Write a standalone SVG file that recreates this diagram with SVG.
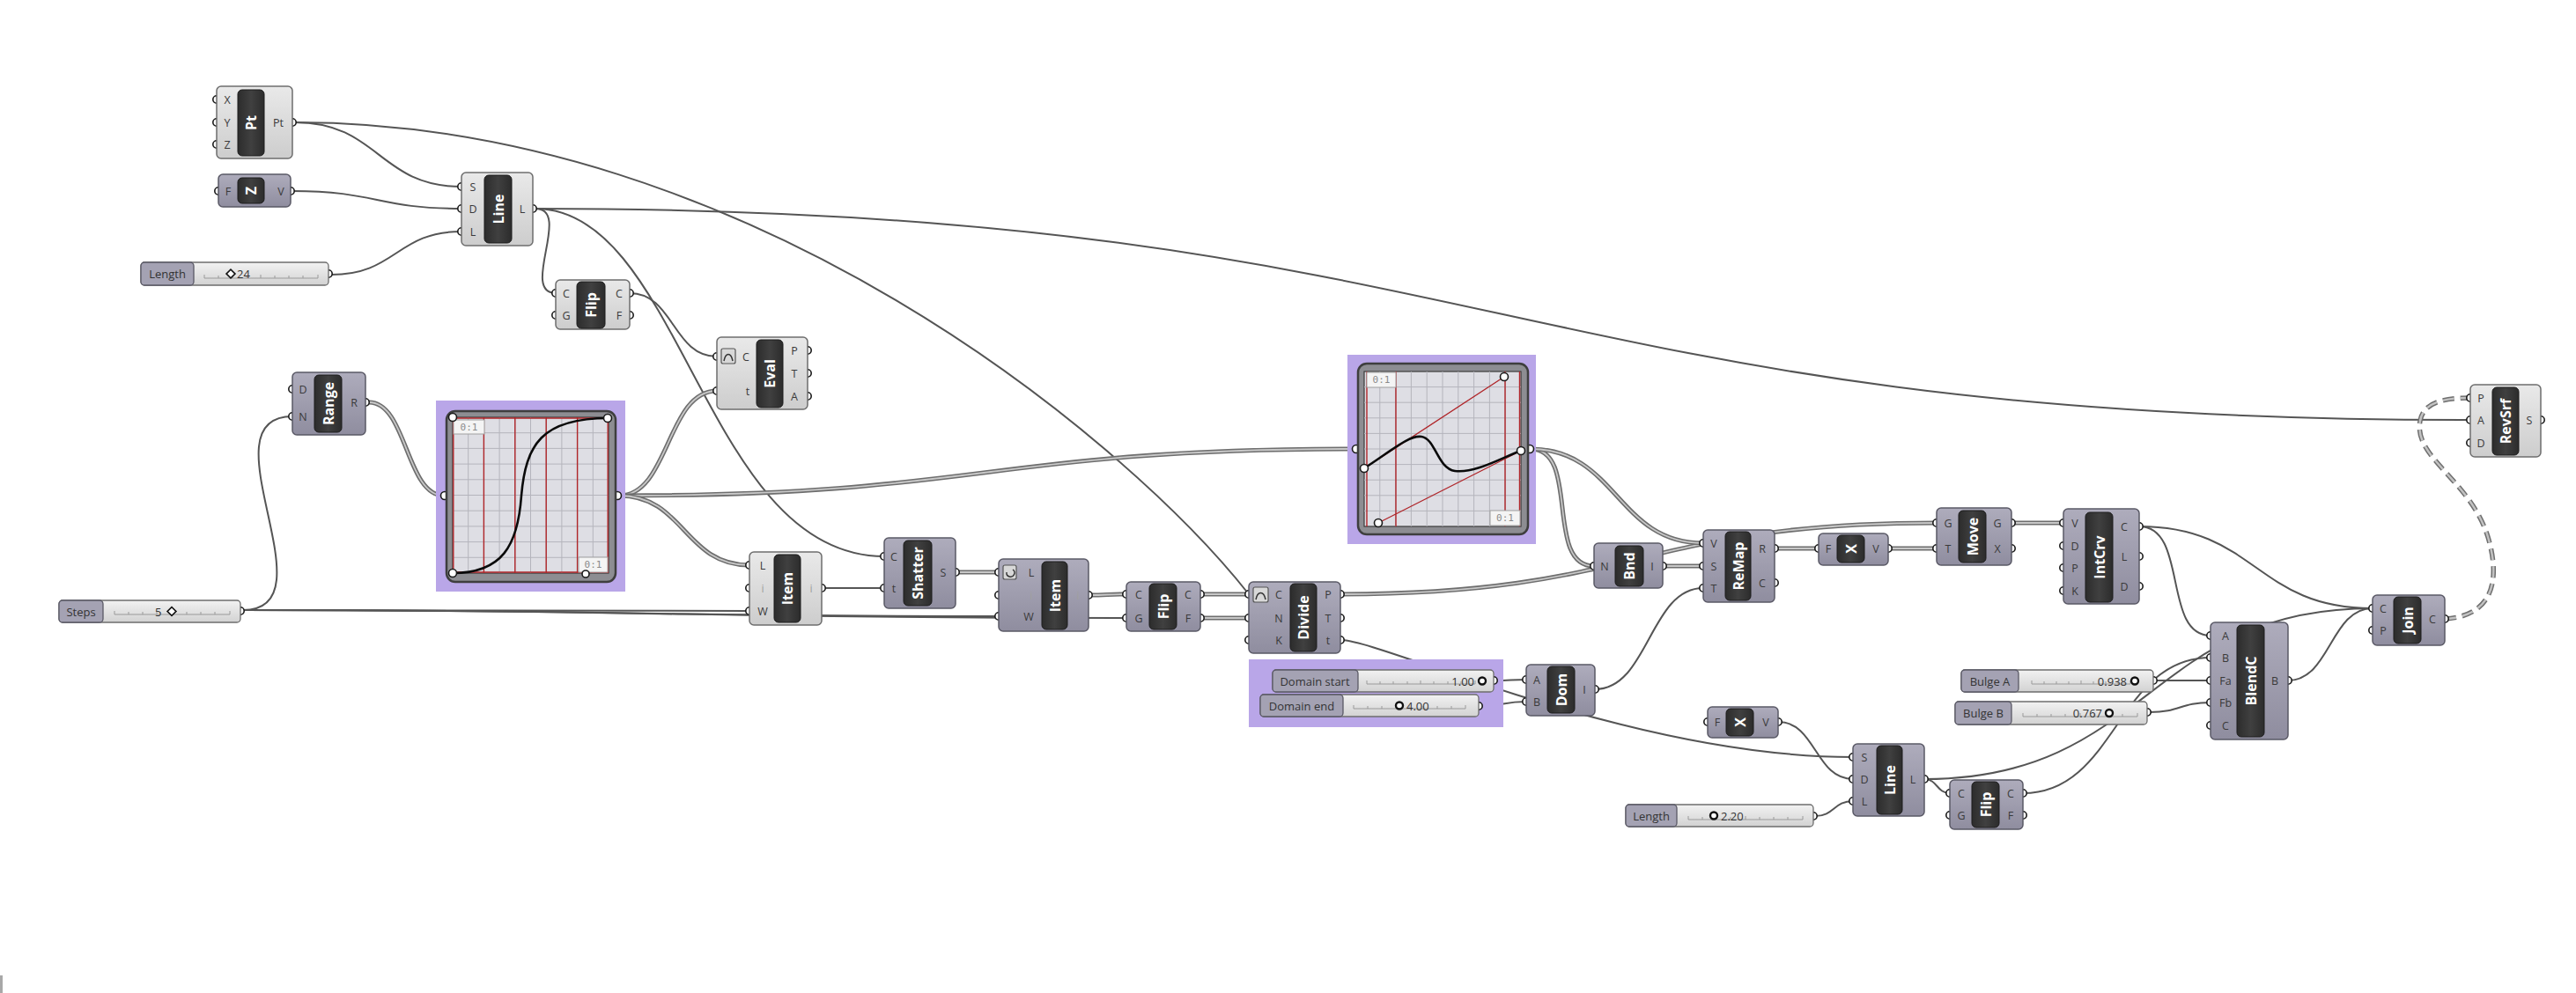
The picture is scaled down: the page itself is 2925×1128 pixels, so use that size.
<svg xmlns="http://www.w3.org/2000/svg" width="2925" height="1128" viewBox="0 0 2925 1128">
<defs>
<linearGradient id="gL" x1="0" y1="0" x2="0" y2="1"><stop offset="0" stop-color="#e9e9e9"/><stop offset="1" stop-color="#cdcdcd"/></linearGradient>
<linearGradient id="gP" x1="0" y1="0" x2="0" y2="1"><stop offset="0" stop-color="#aeacbc"/><stop offset="1" stop-color="#8f8d9f"/></linearGradient>
<linearGradient id="gB" x1="0" y1="0" x2="1" y2="0"><stop offset="0" stop-color="#2c2c2c"/><stop offset="0.5" stop-color="#404040"/><stop offset="1" stop-color="#2c2c2c"/></linearGradient>
<linearGradient id="gS" x1="0" y1="0" x2="0" y2="1"><stop offset="0" stop-color="#f2f2f2"/><stop offset="1" stop-color="#d2d2d2"/></linearGradient>
</defs>
<style>
.lt{fill:url(#gL);stroke:#6d6d6d;stroke-width:1.5}
.pu{fill:url(#gP);stroke:#5a5966;stroke-width:1.5}
.bar{fill:url(#gB);stroke:#1c1c1c;stroke-width:1}
.nm{font-family:"Open Sans","DejaVu Sans",sans-serif;font-weight:bold;font-size:16px;fill:#fff;text-anchor:middle;dominant-baseline:central}
.pl{font-family:"Open Sans","DejaVu Sans",sans-serif;font-size:12.5px;fill:#3a3a3a;text-anchor:middle;dominant-baseline:central}
.dim{fill:#a0a0a0}
.pt{fill:#fff;stroke:#1a1a1a;stroke-width:1.6}
.w{fill:none;stroke:#555;stroke-width:2}
.L{fill:none;stroke:#6e6e6e;stroke-width:5}
.Li{fill:none;stroke:#c8c8c8;stroke-width:1.8}
.dsh{fill:none;stroke:#6f6f6f;stroke-width:5.5;stroke-dasharray:13 7}
.dshi{fill:none;stroke:#c2c2c2;stroke-width:2.5;stroke-dasharray:13 7}
.sl{fill:#a4a2b3;stroke:#5a5966;stroke-width:1.3}
.sv{fill:url(#gS);stroke:#6d6d6d;stroke-width:1.3}
.st{font-family:"Open Sans","DejaVu Sans",sans-serif;font-size:13px;fill:#333;dominant-baseline:central}
.ru{fill:none;stroke:#9a9a9a;stroke-width:1}
.kn{fill:#fff;stroke:#111;stroke-width:2.4}
.grp{fill:#b9a6e8}
.frm{fill:#8d8d92;stroke:#3e3e3e;stroke-width:2.5}
.plot{fill:#dedee4;stroke:#3a3a3a;stroke-width:1.2}
.grid{fill:none;stroke:#b4b4bc;stroke-width:1}
.red{fill:none;stroke:#b0262a;stroke-width:1.4}
.crv{fill:none;stroke:#0a0a0a;stroke-width:2.6}
.lbx{fill:#f4f4f4;stroke:#a0a0a0;stroke-width:1}
.lbt{font-family:"DejaVu Sans Mono",monospace;font-size:11px;fill:#8a8a8a;text-anchor:middle;dominant-baseline:central}
.ico{fill:#d8d8d8;stroke:#555;stroke-width:1.2}
</style>
<rect x="0" y="0" width="2925" height="1128" fill="#ffffff"/>
<rect x="0" y="1108" width="3" height="20" fill="#a8a8a8"/>

<g id="connectors">
<path class="w" d="M335,139 C430,139 430,212 524,212"/>
<path class="w" d="M335,139 C850,139 1280,500 1418,675"/>
<path class="w" d="M332,217 C428,217 428,237 524,237"/>
<path class="w" d="M376,312 C450,312 450,263 524,263"/>
<path class="w" d="M608,237 C650,237 590,333 631,333"/>
<path class="w" d="M608,237 C1706,237 1707,477 2805,477"/>
<path class="w" d="M608,237 C775,237 800,632 1004,632"/>
<path class="w" d="M715,333 C765,333 764,405 814,405"/>
<path class="w" d="M276,693 C380,693 228,473 332,473"/>
<path class="w" d="M276,693 C560,693 565,694 851,694"/>
<path class="w" d="M276,693 C700,693 710,700 1134,700"/>
<path class="w" d="M276,693 C780,693 775,702 1279,702"/>
<path class="w" d="M933,668 L1004,668"/>
<path class="w" d="M1522,727 C1570,727 1850,860 2104,860"/>
<path class="w" d="M1811,783 C1872,783 1873,668 1934,668"/>
<path class="w" d="M1698,773 C1715,773 1716,772 1733,772"/>
<path class="w" d="M1681,802 C1707,802 1707,797 1733,797"/>
<path class="w" d="M2019,820 C2062,820 2061,885 2104,885"/>
<path class="w" d="M2061,927 C2083,927 2082,910 2104,910"/>
<path class="w" d="M2185,885 C2200,885 2199,901 2214,901"/>
<path class="w" d="M2185,885 C2440,885 2440,691 2694,691"/>
<path class="w" d="M2297,901 C2403,901 2404,747 2510,747"/>
<path class="w" d="M2448,773 L2510,773"/>
<path class="w" d="M2441,809 C2476,809 2475,798 2510,798"/>
<path class="w" d="M2429,598 C2485,598 2455,722 2510,722"/>
<path class="w" d="M2429,598 C2562,598 2561,691 2694,691"/>
<path class="w" d="M2598,773 C2646,773 2646,691 2694,691"/>
<path class="L" d="M419,457 C462,457 461,563 504,563"/><path class="Li" d="M419,457 C462,457 461,563 504,563"/>
<path class="L" d="M703,563 C760,563 757,444 814,444"/><path class="Li" d="M703,563 C760,563 757,444 814,444"/>
<path class="L" d="M703,563 C1121,563 1121,510 1539,510"/><path class="Li" d="M703,563 C1121,563 1121,510 1539,510"/>
<path class="L" d="M703,563 C777,563 777,642 851,642"/><path class="Li" d="M703,563 C777,563 777,642 851,642"/>
<path class="L" d="M1085,650 L1134,650"/><path class="Li" d="M1085,650 L1134,650"/>
<path class="L" d="M1236,676 C1258,676 1257,675 1279,675"/><path class="Li" d="M1236,676 C1258,676 1257,675 1279,675"/>
<path class="L" d="M1363,675 L1418,675"/><path class="Li" d="M1363,675 L1418,675"/>
<path class="L" d="M1363,702 L1418,702"/><path class="Li" d="M1363,702 L1418,702"/>
<path class="L" d="M1522,675 C1860,675 1861,594 2199,594"/><path class="Li" d="M1522,675 C1860,675 1861,594 2199,594"/>
<path class="L" d="M1738,510 C1795,510 1753,643 1810,643"/><path class="Li" d="M1738,510 C1795,510 1753,643 1810,643"/>
<path class="L" d="M1738,510 C1836,510 1836,617 1934,617"/><path class="Li" d="M1738,510 C1836,510 1836,617 1934,617"/>
<path class="L" d="M1888,643 L1934,643"/><path class="Li" d="M1888,643 L1934,643"/>
<path class="L" d="M2015,623 L2065,623"/><path class="Li" d="M2015,623 L2065,623"/>
<path class="L" d="M2144,623 L2199,623"/><path class="Li" d="M2144,623 L2199,623"/>
<path class="L" d="M2284,594 L2343,594"/><path class="Li" d="M2284,594 L2343,594"/>
<path class="dsh" d="M2776,703 C2830,700 2840,660 2825,610 C2805,545 2740,520 2748,478 C2752,455 2780,452 2805,452"/>
<path class="dshi" d="M2776,703 C2830,700 2840,660 2825,610 C2805,545 2740,520 2748,478 C2752,455 2780,452 2805,452"/>
</g>

<g id="node-pt">
<circle class="pt" cx="246" cy="113" r="4.2"/><circle class="pt" cx="246" cy="139" r="4.2"/><circle class="pt" cx="246" cy="164" r="4.2"/><circle class="pt" cx="332" cy="139" r="4.2"/>
<rect class="lt" x="246" y="98" width="86" height="82" rx="5"/>
<rect class="bar" x="270" y="102" width="30" height="75" rx="5"/>
<text class="nm" transform="translate(285,139.5) rotate(-90)">Pt</text>
<text class="pl" x="258" y="113">X</text><text class="pl" x="258" y="139">Y</text><text class="pl" x="258" y="164">Z</text><text class="pl" x="316" y="139">Pt</text>
</g>

<g id="node-unitz">
<circle class="pt" cx="248" cy="217" r="4.2"/><circle class="pt" cx="330" cy="217" r="4.2"/>
<rect class="pu" x="248" y="198" width="82" height="37" rx="5"/>
<rect class="bar" x="270" y="202" width="30" height="29" rx="5"/>
<text class="nm" transform="translate(285,216.5) rotate(-90)">Z</text>
<text class="pl" x="259" y="217">F</text><text class="pl" x="319" y="217">V</text>
</g>

<g id="node-line">
<circle class="pt" cx="524" cy="212" r="4.2"/><circle class="pt" cx="524" cy="237" r="4.2"/><circle class="pt" cx="524" cy="263" r="4.2"/><circle class="pt" cx="605" cy="237" r="4.2"/>
<rect class="lt" x="524" y="196" width="81" height="83" rx="5"/>
<rect class="bar" x="550" y="199" width="31" height="77" rx="5"/>
<text class="nm" transform="translate(565.5,237.5) rotate(-90)">Line</text>
<text class="pl" x="537" y="212">S</text><text class="pl" x="537" y="237">D</text><text class="pl" x="537" y="263">L</text><text class="pl" x="593" y="237">L</text>
</g>

<g id="slider-length">
<circle class="pt" cx="373" cy="311" r="4.2"/>
<rect class="sv" x="160" y="298" width="213" height="26" rx="4"/>
<rect class="sl" x="160" y="298" width="60" height="26" rx="4"/>
<text class="st" x="190" y="311" text-anchor="middle">Length</text>
<path class="ru" d="M232,316 H361 M232,312 V316 M248,313 V316 M264,313 V316 M280,313 V316 M296,312 V316 M312,313 V316 M328,313 V316 M344,313 V316 M361,312 V316"/>
<rect x="258.5" y="307.5" width="7" height="7" transform="rotate(45 262 311)" fill="#fff" stroke="#111" stroke-width="1.6"/>
<text class="st" x="269" y="311">24</text>
</g>

<g id="node-flip1">
<circle class="pt" cx="631" cy="333" r="4.2"/><circle class="pt" cx="631" cy="358" r="4.2"/><circle class="pt" cx="715" cy="333" r="4.2"/><circle class="pt" cx="715" cy="358" r="4.2"/>
<rect class="lt" x="631" y="318" width="84" height="56" rx="5"/>
<rect class="bar" x="655" y="320" width="32" height="53" rx="5"/>
<text class="nm" transform="translate(671,346.5) rotate(-90)">Flip</text>
<text class="pl" x="643" y="333">C</text><text class="pl" x="643" y="358">G</text><text class="pl" x="703" y="333">C</text><text class="pl" x="703" y="358">F</text>
</g>

<g id="node-eval">
<circle class="pt" cx="814" cy="405" r="4.2"/><circle class="pt" cx="814" cy="444" r="4.2"/><circle class="pt" cx="917" cy="398" r="4.2"/><circle class="pt" cx="917" cy="424" r="4.2"/><circle class="pt" cx="917" cy="450" r="4.2"/>
<rect class="lt" x="814" y="383" width="103" height="82" rx="5"/>
<rect class="bar" x="859" y="386" width="30" height="77" rx="5"/>
<rect class="ico" x="819" y="396" width="16" height="17" rx="2"/>
<path d="M822,410 C824,400 830,400 832,410" fill="none" stroke="#333" stroke-width="1.5"/>
<text class="nm" transform="translate(874,424.5) rotate(-90)">Eval</text>
<text class="pl" x="847" y="405">C</text><text class="pl" x="849" y="444">t</text><text class="pl" x="902" y="398">P</text><text class="pl" x="902" y="424">T</text><text class="pl" x="902" y="450">A</text>
</g>

<g id="node-range">
<circle class="pt" cx="332" cy="442" r="4.2"/><circle class="pt" cx="332" cy="473" r="4.2"/><circle class="pt" cx="415" cy="457" r="4.2"/>
<rect class="pu" x="332" y="423" width="83" height="71" rx="5"/>
<rect class="bar" x="357" y="426" width="31" height="65" rx="5"/>
<text class="nm" transform="translate(372.5,458.5) rotate(-90)">Range</text>
<text class="pl" x="344" y="442">D</text><text class="pl" x="344" y="473">N</text><text class="pl" x="402" y="457">R</text>
</g>

<g id="slider-steps">
<circle class="pt" cx="273" cy="694" r="4.2"/>
<rect class="sv" x="67" y="682" width="206" height="25" rx="4"/>
<rect class="sl" x="67" y="682" width="50" height="25" rx="4"/>
<text class="st" x="92" y="694.5" text-anchor="middle">Steps</text>
<path class="ru" d="M130,698 H261 M130,694 V698 M146,695 V698 M162,695 V698 M178,695 V698 M196,694 V698 M212,695 V698 M228,695 V698 M244,695 V698 M261,694 V698"/>
<text class="st" x="176" y="694.5">5</text>
<rect x="191.5" y="691" width="7" height="7" transform="rotate(45 195 694.5)" fill="#fff" stroke="#111" stroke-width="1.6"/>
</g>

<g id="graphmapper-1">
<rect class="grp" x="495" y="455" width="215" height="217"/>
<circle class="pt" cx="505" cy="563" r="4.5"/><circle class="pt" cx="701" cy="563" r="4.5"/>
<rect class="frm" x="507" y="467" width="192" height="194" rx="10"/>
<rect class="plot" x="514" y="474" width="177" height="177"/>
<path class="grid" d="M531.7,474V651M549.4,474V651M567.1,474V651M584.8,474V651M602.5,474V651M620.2,474V651M637.9,474V651M655.6,474V651M673.3,474V651M514,491.7H691M514,509.4H691M514,527.1H691M514,544.8H691M514,562.5H691M514,580.2H691M514,597.9H691M514,615.6H691M514,633.3H691"/>
<path class="red" d="M514.8,474V651M549.4,474V651M584.8,474V651M620.2,474V651M655.6,474V651M690.2,474V651M514,475H691M514,650H691"/>
<rect class="lbx" x="515" y="477" width="35" height="16"/><text class="lbt" x="532.5" y="485">0:1</text>
<rect class="lbx" x="657" y="633" width="33" height="17"/><text class="lbt" x="673.5" y="641.5">0:1</text>
<path class="crv" d="M514,651 C570,651 588,620 592,563 C597,505 615,475 691,475"/>
<circle class="pt" cx="514" cy="474" r="4.5"/><circle class="pt" cx="690" cy="475" r="4.5"/><circle class="pt" cx="514" cy="651" r="4.5"/><circle class="pt" cx="665" cy="652" r="4"/>
</g>

<g id="node-item1">
<circle class="pt" cx="851" cy="642" r="4.2"/><circle class="pt" cx="851" cy="668" r="4.2"/><circle class="pt" cx="851" cy="694" r="4.2"/><circle class="pt" cx="933" cy="668" r="4.2"/>
<rect class="lt" x="851" y="627" width="82" height="83" rx="5"/>
<rect class="bar" x="879" y="630" width="30" height="77" rx="5"/>
<text class="nm" transform="translate(894,668.5) rotate(-90)">Item</text>
<text class="pl" x="866" y="642">L</text><text class="pl dim" x="866" y="668">i</text><text class="pl" x="866" y="694">W</text><text class="pl dim" x="921" y="668">i</text>
</g>

<g id="node-shatter">
<circle class="pt" cx="1004" cy="632" r="4.2"/><circle class="pt" cx="1004" cy="668" r="4.2"/><circle class="pt" cx="1085" cy="650" r="4.2"/>
<rect class="pu" x="1004" y="611" width="81" height="80" rx="5"/>
<rect class="bar" x="1026" y="614" width="32" height="74" rx="5"/>
<text class="nm" transform="translate(1042,651) rotate(-90)">Shatter</text>
<text class="pl" x="1015" y="632">C</text><text class="pl" x="1015" y="668">t</text><text class="pl" x="1071" y="650">S</text>
</g>

<g id="node-item2">
<circle class="pt" cx="1134" cy="650" r="4.2"/><circle class="pt" cx="1134" cy="676" r="4.2"/><circle class="pt" cx="1134" cy="700" r="4.2"/><circle class="pt" cx="1236" cy="676" r="4.2"/>
<rect class="pu" x="1134" y="635" width="102" height="82" rx="5"/>
<rect class="bar" x="1183" y="638" width="29" height="77" rx="5"/>
<rect class="ico" x="1139" y="642" width="15" height="16" rx="2"/>
<path d="M1150,647 A4.5,4.5 0 1 1 1143,650" fill="none" stroke="#333" stroke-width="1.4"/>
<text class="nm" transform="translate(1197.5,676.5) rotate(-90)">Item</text>
<text class="pl" x="1171" y="650">L</text><text class="pl dim" x="1171" y="676">i</text><text class="pl" x="1168" y="700">W</text><text class="pl dim" x="1224" y="676">i</text>
</g>

<g id="node-flip2">
<circle class="pt" cx="1279" cy="675" r="4.2"/><circle class="pt" cx="1279" cy="702" r="4.2"/><circle class="pt" cx="1363" cy="675" r="4.2"/><circle class="pt" cx="1363" cy="702" r="4.2"/>
<rect class="pu" x="1279" y="661" width="84" height="56" rx="5"/>
<rect class="bar" x="1305" y="663" width="31" height="52" rx="5"/>
<text class="nm" transform="translate(1320.5,689) rotate(-90)">Flip</text>
<text class="pl" x="1293" y="675">C</text><text class="pl" x="1293" y="702">G</text><text class="pl" x="1349" y="675">C</text><text class="pl" x="1349" y="702">F</text>
</g>

<g id="node-divide">
<circle class="pt" cx="1418" cy="675" r="4.2"/><circle class="pt" cx="1418" cy="702" r="4.2"/><circle class="pt" cx="1418" cy="727" r="4.2"/><circle class="pt" cx="1522" cy="675" r="4.2"/><circle class="pt" cx="1522" cy="702" r="4.2"/><circle class="pt" cx="1522" cy="727" r="4.2"/>
<rect class="pu" x="1418" y="661" width="104" height="81" rx="5"/>
<rect class="bar" x="1465" y="663" width="30" height="77" rx="5"/>
<rect class="ico" x="1423" y="667" width="17" height="17" rx="2"/>
<path d="M1426,681 C1428,671 1435,671 1437,681" fill="none" stroke="#333" stroke-width="1.5"/>
<text class="nm" transform="translate(1480,701.5) rotate(-90)">Divide</text>
<text class="pl" x="1452" y="675">C</text><text class="pl" x="1452" y="702">N</text><text class="pl" x="1452" y="727">K</text><text class="pl" x="1508" y="675">P</text><text class="pl" x="1508" y="702">T</text><text class="pl" x="1508" y="727">t</text>
</g>

<g id="graphmapper-2">
<rect class="grp" x="1530" y="403" width="214" height="215"/>
<circle class="pt" cx="1540" cy="510" r="4.5"/><circle class="pt" cx="1737" cy="510" r="4.5"/>
<rect class="frm" x="1542" y="413" width="193" height="194" rx="10"/>
<rect class="plot" x="1549" y="422" width="178" height="176"/>
<path class="grid" d="M1566.8,422V598M1584.6,422V598M1602.4,422V598M1620.2,422V598M1638,422V598M1655.8,422V598M1673.6,422V598M1691.4,422V598M1709.2,422V598M1549,439.6H1727M1549,457.2H1727M1549,474.8H1727M1549,492.4H1727M1549,510H1727M1549,527.6H1727M1549,545.2H1727M1549,562.8H1727M1549,580.4H1727"/>
<path class="red" d="M1552,422V598M1585,422V598M1709,422V598M1725.5,422V598M1549,532L1708,428M1565,594L1727,512"/>
<rect class="lbx" x="1552" y="423" width="33" height="17"/><text class="lbt" x="1568.5" y="431.5">0:1</text>
<rect class="lbx" x="1692" y="580" width="34" height="17"/><text class="lbt" x="1709" y="588.5">0:1</text>
<path class="crv" d="M1549,532 C1580,512 1600,494 1614,496 C1630,498 1632,532 1652,535 C1675,538 1705,520 1727,512"/>
<circle class="pt" cx="1549" cy="532" r="4.5"/><circle class="pt" cx="1708" cy="428" r="4.5"/><circle class="pt" cx="1565" cy="594" r="4.5"/><circle class="pt" cx="1727" cy="512" r="4.5"/>
</g>

<g id="sliders-domain">
<rect class="grp" x="1418" y="749" width="289" height="77"/>
<circle class="pt" cx="1696" cy="773" r="4.2"/>
<rect class="sv" x="1445" y="761" width="251" height="25" rx="4"/>
<rect class="sl" x="1445" y="761" width="97" height="25" rx="4"/>
<text class="st" x="1493" y="773.5" text-anchor="middle">Domain start</text>
<path class="ru" d="M1552,777 H1675 M1552,773 V777 M1567,774 V777 M1582,774 V777 M1598,774 V777 M1613,773 V777 M1628,774 V777 M1644,774 V777 M1659,774 V777 M1675,773 V777"/>
<text class="st" x="1674" y="773.5" text-anchor="end">1.00</text>
<circle class="kn" cx="1683" cy="773.5" r="4"/>
<circle class="pt" cx="1679" cy="802" r="4.2"/>
<rect class="sv" x="1431" y="789" width="248" height="25" rx="4"/>
<rect class="sl" x="1431" y="789" width="94" height="25" rx="4"/>
<text class="st" x="1478" y="801.5" text-anchor="middle">Domain end</text>
<path class="ru" d="M1537,805 H1664 M1537,801 V805 M1553,802 V805 M1569,802 V805 M1585,802 V805 M1600,801 V805 M1616,802 V805 M1632,802 V805 M1648,802 V805 M1664,801 V805"/>
<circle class="kn" cx="1589" cy="801.5" r="4"/>
<text class="st" x="1597" y="801.5">4.00</text>
</g>

<g id="node-dom">
<circle class="pt" cx="1733" cy="772" r="4.2"/><circle class="pt" cx="1733" cy="797" r="4.2"/><circle class="pt" cx="1811" cy="783" r="4.2"/>
<rect class="pu" x="1733" y="755" width="78" height="58" rx="5"/>
<rect class="bar" x="1757" y="757" width="31" height="53" rx="5"/>
<text class="nm" transform="translate(1772.5,783.5) rotate(-90)">Dom</text>
<text class="pl" x="1745" y="772">A</text><text class="pl" x="1745" y="797">B</text><text class="pl" x="1799" y="783">I</text>
</g>

<g id="node-bnd">
<circle class="pt" cx="1810" cy="643" r="4.2"/><circle class="pt" cx="1888" cy="643" r="4.2"/>
<rect class="pu" x="1810" y="617" width="78" height="51" rx="5"/>
<rect class="bar" x="1834" y="620" width="32" height="46" rx="5"/>
<text class="nm" transform="translate(1850,643) rotate(-90)">Bnd</text>
<text class="pl" x="1822" y="643">N</text><text class="pl" x="1876" y="643">I</text>
</g>

<g id="node-remap">
<circle class="pt" cx="1934" cy="617" r="4.2"/><circle class="pt" cx="1934" cy="643" r="4.2"/><circle class="pt" cx="1934" cy="668" r="4.2"/><circle class="pt" cx="2015" cy="623" r="4.2"/><circle class="pt" cx="2015" cy="662" r="4.2"/>
<rect class="pu" x="1934" y="602" width="81" height="82" rx="5"/>
<rect class="bar" x="1959" y="604" width="29" height="78" rx="5"/>
<text class="nm" transform="translate(1973.5,643) rotate(-90)">ReMap</text>
<text class="pl" x="1946" y="617">V</text><text class="pl" x="1946" y="643">S</text><text class="pl" x="1946" y="668">T</text><text class="pl" x="2001" y="623">R</text><text class="pl" x="2001" y="662">C</text>
</g>

<g id="node-x1">
<circle class="pt" cx="2065" cy="623" r="4.2"/><circle class="pt" cx="2144" cy="623" r="4.2"/>
<rect class="pu" x="2065" y="606" width="79" height="36" rx="5"/>
<rect class="bar" x="2086" y="608" width="31" height="31" rx="5"/>
<text class="nm" transform="translate(2101.5,623.5) rotate(-90)">X</text>
<text class="pl" x="2076" y="623">F</text><text class="pl" x="2130" y="623">V</text>
</g>

<g id="node-move">
<circle class="pt" cx="2199" cy="594" r="4.2"/><circle class="pt" cx="2199" cy="623" r="4.2"/><circle class="pt" cx="2284" cy="594" r="4.2"/><circle class="pt" cx="2284" cy="623" r="4.2"/>
<rect class="pu" x="2199" y="577" width="85" height="65" rx="5"/>
<rect class="bar" x="2224" y="580" width="31" height="59" rx="5"/>
<text class="nm" transform="translate(2239.5,609.5) rotate(-90)">Move</text>
<text class="pl" x="2212" y="594">G</text><text class="pl" x="2212" y="623">T</text><text class="pl" x="2268" y="594">G</text><text class="pl" x="2268" y="623">X</text>
</g>

<g id="node-intcrv">
<circle class="pt" cx="2343" cy="594" r="4.2"/><circle class="pt" cx="2343" cy="620" r="4.2"/><circle class="pt" cx="2343" cy="645" r="4.2"/><circle class="pt" cx="2343" cy="671" r="4.2"/><circle class="pt" cx="2429" cy="598" r="4.2"/><circle class="pt" cx="2429" cy="632" r="4.2"/><circle class="pt" cx="2429" cy="666" r="4.2"/>
<rect class="pu" x="2343" y="578" width="86" height="108" rx="5"/>
<rect class="bar" x="2368" y="582" width="31" height="102" rx="5"/>
<text class="nm" transform="translate(2383.5,633) rotate(-90)">IntCrv</text>
<text class="pl" x="2356" y="594">V</text><text class="pl" x="2356" y="620">D</text><text class="pl" x="2356" y="645">P</text><text class="pl" x="2356" y="671">K</text><text class="pl" x="2412" y="598">C</text><text class="pl" x="2412" y="632">L</text><text class="pl" x="2412" y="666">D</text>
</g>

<g id="node-x2">
<circle class="pt" cx="1939" cy="820" r="4.2"/><circle class="pt" cx="2019" cy="820" r="4.2"/>
<rect class="pu" x="1939" y="803" width="80" height="35" rx="5"/>
<rect class="bar" x="1960" y="805" width="31" height="31" rx="5"/>
<text class="nm" transform="translate(1975.5,820.5) rotate(-90)">X</text>
<text class="pl" x="1950" y="820">F</text><text class="pl" x="2005" y="820">V</text>
</g>

<g id="node-line2">
<circle class="pt" cx="2104" cy="860" r="4.2"/><circle class="pt" cx="2104" cy="885" r="4.2"/><circle class="pt" cx="2104" cy="910" r="4.2"/><circle class="pt" cx="2185" cy="885" r="4.2"/>
<rect class="pu" x="2104" y="845" width="81" height="82" rx="5"/>
<rect class="bar" x="2131" y="847" width="29" height="78" rx="5"/>
<text class="nm" transform="translate(2145.5,886) rotate(-90)">Line</text>
<text class="pl" x="2117" y="860">S</text><text class="pl" x="2117" y="885">D</text><text class="pl" x="2117" y="910">L</text><text class="pl" x="2172" y="885">L</text>
</g>

<g id="node-flip3">
<circle class="pt" cx="2214" cy="901" r="4.2"/><circle class="pt" cx="2214" cy="926" r="4.2"/><circle class="pt" cx="2297" cy="901" r="4.2"/><circle class="pt" cx="2297" cy="926" r="4.2"/>
<rect class="pu" x="2214" y="886" width="83" height="56" rx="5"/>
<rect class="bar" x="2239" y="888" width="31" height="52" rx="5"/>
<text class="nm" transform="translate(2254.5,914) rotate(-90)">Flip</text>
<text class="pl" x="2227" y="901">C</text><text class="pl" x="2227" y="926">G</text><text class="pl" x="2283" y="901">C</text><text class="pl" x="2283" y="926">F</text>
</g>

<g id="slider-length2">
<circle class="pt" cx="2059" cy="927" r="4.2"/>
<rect class="sv" x="1846" y="914" width="213" height="25" rx="4"/>
<rect class="sl" x="1846" y="914" width="58" height="25" rx="4"/>
<text class="st" x="1875" y="926.5" text-anchor="middle">Length</text>
<path class="ru" d="M1917,931 H2047 M1917,927 V931 M1933,928 V931 M1949,928 V931 M1965,928 V931 M1982,927 V931 M1998,928 V931 M2014,928 V931 M2030,928 V931 M2047,927 V931"/>
<circle class="kn" cx="1946" cy="926.5" r="4"/>
<text class="st" x="1954" y="926.5">2.20</text>
</g>

<g id="slider-bulgea">
<circle class="pt" cx="2445" cy="773" r="4.2"/>
<rect class="sv" x="2227" y="761" width="218" height="25" rx="4"/>
<rect class="sl" x="2227" y="761" width="65" height="25" rx="4"/>
<text class="st" x="2259.5" y="773.5" text-anchor="middle">Bulge A</text>
<path class="ru" d="M2307,777 H2419 M2307,773 V777 M2321,774 V777 M2335,774 V777 M2349,774 V777 M2363,773 V777 M2377,774 V777 M2391,774 V777 M2405,774 V777 M2419,773 V777"/>
<text class="st" x="2415" y="773.5" text-anchor="end">0.938</text>
<circle class="kn" cx="2424" cy="773.5" r="4"/>
</g>

<g id="slider-bulgeb">
<circle class="pt" cx="2438" cy="809" r="4.2"/>
<rect class="sv" x="2220" y="797" width="218" height="26" rx="4"/>
<rect class="sl" x="2220" y="797" width="64" height="26" rx="4"/>
<text class="st" x="2252" y="810" text-anchor="middle">Bulge B</text>
<path class="ru" d="M2297,814 H2427 M2297,810 V814 M2313,811 V814 M2329,811 V814 M2345,811 V814 M2362,810 V814 M2378,811 V814 M2394,811 V814 M2410,811 V814 M2427,810 V814"/>
<text class="st" x="2387" y="810" text-anchor="end">0.767</text>
<circle class="kn" cx="2395" cy="810" r="4"/>
</g>

<g id="node-blendc">
<circle class="pt" cx="2510" cy="722" r="4.2"/><circle class="pt" cx="2510" cy="747" r="4.2"/><circle class="pt" cx="2510" cy="773" r="4.2"/><circle class="pt" cx="2510" cy="798" r="4.2"/><circle class="pt" cx="2510" cy="824" r="4.2"/><circle class="pt" cx="2598" cy="773" r="4.2"/>
<rect class="pu" x="2510" y="707" width="88" height="133" rx="5"/>
<rect class="bar" x="2540" y="710" width="31" height="127" rx="5"/>
<text class="nm" transform="translate(2555.5,773.5) rotate(-90)">BlendC</text>
<text class="pl" x="2527" y="722">A</text><text class="pl" x="2527" y="747">B</text><text class="pl" x="2527" y="773">Fa</text><text class="pl" x="2527" y="798">Fb</text><text class="pl" x="2527" y="824">C</text><text class="pl" x="2583" y="773">B</text>
</g>

<g id="node-join">
<circle class="pt" cx="2694" cy="691" r="4.2"/><circle class="pt" cx="2694" cy="716" r="4.2"/><circle class="pt" cx="2776" cy="703" r="4.2"/>
<rect class="pu" x="2694" y="676" width="82" height="57" rx="5"/>
<rect class="bar" x="2718" y="678" width="31" height="53" rx="5"/>
<text class="nm" transform="translate(2733.5,704.5) rotate(-90)">Join</text>
<text class="pl" x="2706" y="691">C</text><text class="pl" x="2706" y="716">P</text><text class="pl" x="2762" y="703">C</text>
</g>

<g id="node-revsrf">
<circle class="pt" cx="2805" cy="452" r="4.2"/><circle class="pt" cx="2805" cy="477" r="4.2"/><circle class="pt" cx="2805" cy="503" r="4.2"/><circle class="pt" cx="2885" cy="477" r="4.2"/>
<rect class="lt" x="2805" y="437" width="80" height="82" rx="5"/>
<rect class="bar" x="2830" y="440" width="30" height="77" rx="5"/>
<text class="nm" transform="translate(2845,478.5) rotate(-90)">RevSrf</text>
<text class="pl" x="2817" y="452">P</text><text class="pl" x="2817" y="477">A</text><text class="pl" x="2817" y="503">D</text><text class="pl" x="2872" y="477">S</text>
</g>
</svg>
